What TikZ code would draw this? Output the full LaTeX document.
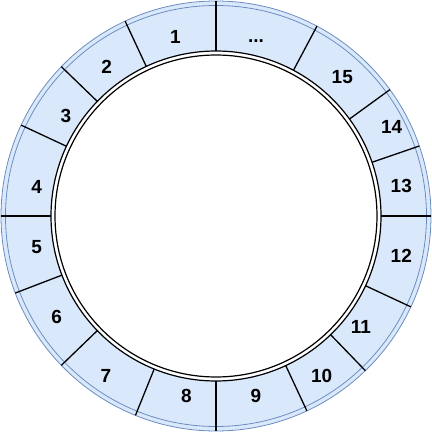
\documentclass[tikz,border=0pt]{standalone}
\usepackage{fontspec}
\setmainfont{Liberation Sans}
\usetikzlibrary{calc}
\definecolor{ringfill}{HTML}{DAE8FC}
\definecolor{ringline}{HTML}{6C8EBF}
\begin{document}
\begin{tikzpicture}[x=1pt,y=1pt,
  seglabel/.style={anchor=base,inner sep=0pt,font=\fontsize{19}{22}\selectfont\bfseries},
  bluering/.style={draw=ringline,line width=0.8pt},
  segline/.style={draw=black,line width=1.3pt},
  innerring/.style={draw=black,line width=1.2pt}]
\useasboundingbox (0,0) rectangle (432,432);
\coordinate (C) at (216,216);
% ring fill
\fill[ringfill] (C) circle (215);
\draw[bluering] (C) circle (215);
\draw[bluering] (C) circle (210.5);
% segment separators
\foreach \a in {0,19,36,62,90,115,136,155,180,201,224,248,270,295,314,335}{
  \draw[segline] ($(C)+(\a:164)$) -- ($(C)+(\a:215)$);
}
% inner double circle
\fill[white] (C) circle (165);
\draw[innerring] (C) circle (165);
\draw[innerring] (C) circle (161);
% labels
\node[seglabel] (l1)  at (175.5,388.7) {1};
\node[seglabel] (ld)  at (256,389) {...};
\node[seglabel] (l15) at (342.3,348.7) {15};
\node[seglabel] (l14) at (391.7,298.7) {14};
\node[seglabel] (l13) at (401.3,239.3) {13};
\node[seglabel] (l12) at (401.3,169.3) {12};
\node[seglabel] (l11) at (360.8,98.7) {11};
\node[seglabel] (l10) at (321.7,49.3) {10};
\node[seglabel] (l9)  at (256,29.3) {9};
\node[seglabel] (l8)  at (186.3,29.3) {8};
\node[seglabel] (l7)  at (106,49.3) {7};
\node[seglabel] (l6)  at (56.7,108.3) {6};
\node[seglabel] (l5)  at (36.7,178.7) {5};
\node[seglabel] (l4)  at (36.7,238.7) {4};
\node[seglabel] (l3)  at (66,309.3) {3};
\node[seglabel] (l2)  at (106.7,358) {2};
\end{tikzpicture}
\end{document}
